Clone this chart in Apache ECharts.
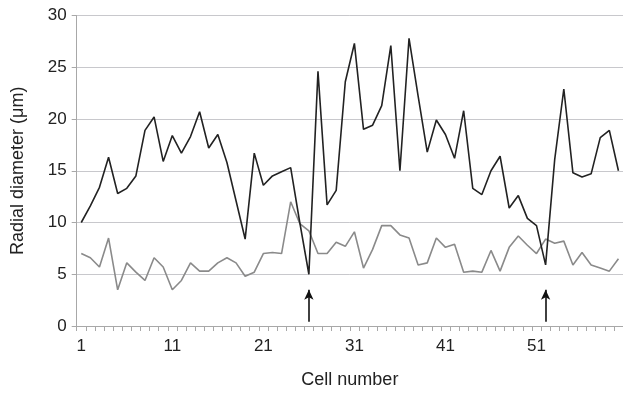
<!DOCTYPE html>
<html>
<head>
<meta charset="utf-8">
<script src="https://cdn.jsdelivr.net/npm/echarts@6/dist/echarts.min.js"></script>
<style>
html,body{margin:0;padding:0;background:#fff;}
#chart{width:623px;height:394px;}
</style>
</head>
<body>
<div id="chart"></div>
<script>
const cells = Array.from({length: 60}, (_, i) => String(i + 1));
const darkSeries = [
  10.0, 11.6, 13.4, 16.3, 12.8, 13.3, 14.5, 18.9, 20.2, 15.9,
  18.4, 16.7, 18.3, 20.7, 17.2, 18.5, 15.8, 12.1, 8.4, 16.7,
  13.6, 14.5, 14.9, 15.3, 10.0, 5.0, 24.6, 11.7, 13.1, 23.6,
  27.3, 19.0, 19.4, 21.3, 27.1, 15.0, 27.8, 22.2, 16.8, 19.9,
  18.5, 16.2, 20.8, 13.3, 12.7, 15.0, 16.4, 11.4, 12.6, 10.4,
  9.7, 5.9, 16.1, 22.9, 14.8, 14.4, 14.7, 18.2, 18.9, 15.0
];
const graySeries = [
  7.0, 6.6, 5.7, 8.5, 3.5, 6.1, 5.2, 4.4, 6.6, 5.7,
  3.5, 4.4, 6.1, 5.3, 5.3, 6.1, 6.6, 6.1, 4.8, 5.2,
  7.0, 7.1, 7.0, 12.0, 9.9, 9.2, 7.0, 7.0, 8.1, 7.7,
  9.1, 5.6, 7.4, 9.7, 9.7, 8.8, 8.5, 5.9, 6.1, 8.5,
  7.6, 7.9, 5.2, 5.3, 5.2, 7.3, 5.3, 7.6, 8.7, 7.8,
  7.0, 8.4, 8.0, 8.2, 5.9, 7.1, 5.9, 5.6, 5.3, 6.5
];
const arrowCells = ['26', '52'];
const arrowFrom = 0.4;
const arrowTo = 3.5;

const chart = echarts.init(document.getElementById('chart'), null, {renderer: 'canvas'});
const font = 'Liberation Sans, Arial, sans-serif';
chart.setOption({
  animation: false,
  backgroundColor: '#ffffff',
  grid: {left: 76.7, right: -1.9, top: 15.5, bottom: 64, containLabel: false},
  xAxis: {
    type: 'category',
    data: cells,
    boundaryGap: true,
    name: 'Cell number',
    nameLocation: 'middle',
    nameGap: 45,
    nameTextStyle: {color: '#222', fontSize: 18, fontFamily: font},
    axisLine: {lineStyle: {color: '#a8a8a8', width: 1}},
    axisTick: {show: true, interval: 0, length: 5, lineStyle: {color: '#a8a8a8'}},
    axisLabel: {interval: 9, color: '#222', fontSize: 17, fontFamily: font, margin: 12},
    splitLine: {show: false}
  },
  yAxis: {
    type: 'value',
    min: 0, max: 30, interval: 5,
    name: 'Radial diameter (\u03bcm)',
    nameLocation: 'middle',
    nameGap: 50,
    nameTextStyle: {color: '#222', fontSize: 18, fontFamily: font},
    axisLine: {show: true, lineStyle: {color: '#a8a8a8', width: 1}},
    axisTick: {show: true, length: 5, lineStyle: {color: '#a8a8a8'}},
    axisLabel: {color: '#222', fontSize: 17, fontFamily: font, margin: 10},
    splitLine: {lineStyle: {color: '#c8c8cc', width: 1}}
  },
  series: [
    {
      name: 'gray', type: 'line', data: graySeries, symbol: 'none',
      lineStyle: {color: '#8a8a8a', width: 1.6}, z: 2
    },
    {
      name: 'dark', type: 'line', data: darkSeries, symbol: 'none',
      lineStyle: {color: '#222222', width: 1.6}, z: 3,
      markLine: {
        silent: true,
        symbol: ['none', 'arrow'],
        symbolSize: [7, 10],
        label: {show: false},
        lineStyle: {color: '#111', width: 1.6, type: 'solid'},
        data: arrowCells.map(c => [{coord: [c, arrowFrom]}, {coord: [c, arrowTo]}])
      }
    }
  ]
});
</script>
</body>
</html>
